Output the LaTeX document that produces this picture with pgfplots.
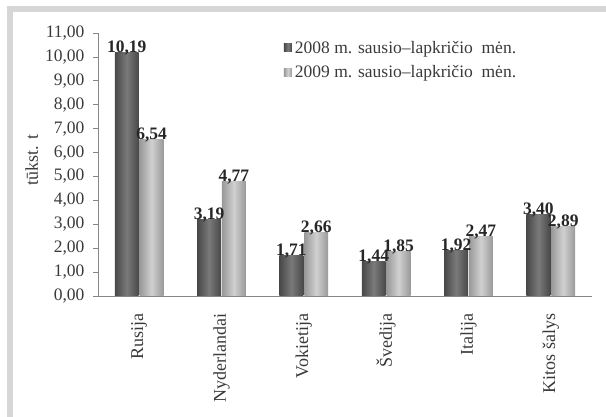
\documentclass[border=0pt]{standalone}
\usepackage{fontspec}
\setmainfont{Liberation Serif}
\usepackage{pgfplots}
\pgfplotsset{compat=1.18}

\definecolor{dkedge}{HTML}{484848}
\definecolor{dkmid}{HTML}{7A7A7A}
\definecolor{ltedge}{HTML}{999999}
\definecolor{ltmid}{HTML}{D0D0D0}
\definecolor{axgray}{HTML}{868686}
\definecolor{txt}{HTML}{3A3A3A}
\definecolor{frame}{HTML}{D6D6D6}

\pgfplotsset{
    dk/.style={draw=none, left color=dkedge, right color=dkedge, middle color=dkmid, bar shift=-0.151, forget plot},
    lt/.style={draw=none, left color=ltedge, right color=ltedge, middle color=ltmid, bar shift=0.151, forget plot},
}

\begin{document}
\begin{tikzpicture}
\useasboundingbox (0,0) rectangle (606bp,417bp);
% frame visible on top and left only
\fill[frame] (7bp,405bp) rectangle (606bp,411bp);
\fill[frame] (7bp,0bp) rectangle (12.5bp,411bp);

\begin{axis}[
    at={(98bp,121bp)}, anchor=south west,
    scale only axis,
    width=494bp, height=263bp,
    ybar,
    bar width=0.29,
    xmin=0, xmax=6,
    ymin=0, ymax=11,
    axis x line=bottom, axis y line=left,
    axis line style={-, axgray, line width=0.8bp},
    every tick/.style={axgray, line width=0.8bp},
    tick align=outside,
    major tick length=5bp,
    minor tick length=5bp,
    ytick={0,1,...,11},
    xtick={0.5,1.5,2.5,3.5,4.5,5.5},
    minor xtick={0,1,2,3,4,5,6},
    xtick style={draw=none},
    xticklabels={Rusija,Nyderlandai,Vokietija,Švedija,Italija,Kitos šalys},
    xticklabel style={rotate=90, anchor=east, font=\fontsize{18bp}{18bp}\selectfont, text=txt},
    xticklabel shift=9bp,
    yticklabel style={font=\fontsize{17.5bp}{18bp}\selectfont, text=txt,
        /pgf/number format/.cd, fixed, fixed zerofill, precision=2, use comma},
    yticklabel shift=5bp,
    /pgf/number format/assume math mode=true,
    ylabel={tūkst. t},
    ylabel style={at={(axis description cs:-0.134,0.517)}, anchor=center,
        font=\fontsize{18bp}{18bp}\selectfont, text=txt},
    nodes near coords={\pgfmathprintnumber[fixed,fixed zerofill,precision=2,use comma]{\pgfplotspointmeta}},
    every node near coord/.append style={anchor=base, inner sep=0pt, yshift=0bp,
        font=\bfseries\fontsize{17.5bp}{18bp}\selectfont, text=black!85},
    legend image code/.code={\fill[#1] (0bp,-4bp) rectangle (8bp,4bp);},
    legend style={at={(axis description cs:0.37,0.985)}, anchor=north west,
        draw=none, fill=none, row sep=7bp,
        font=\fontsize{17.5bp}{18bp}\selectfont, text=txt,
        nodes={inner xsep=3bp}},
    legend cell align=left,
]
% 2008
\addplot[dk] coordinates {(0.5,10.19)};
\addplot[dk] coordinates {(1.5,3.19)};
\addplot[dk] coordinates {(2.5,1.71)};
\addplot[dk] coordinates {(3.5,1.44)};
\addplot[dk] coordinates {(4.5,1.92)};
\addplot[dk] coordinates {(5.5,3.40)};
% 2009
\addplot[lt] coordinates {(0.5,6.54)};
\addplot[lt] coordinates {(1.5,4.77)};
\addplot[lt] coordinates {(2.5,2.66)};
\addplot[lt] coordinates {(3.5,1.85)};
\addplot[lt] coordinates {(4.5,2.47)};
\addplot[lt] coordinates {(5.5,2.89)};
\addlegendimage{draw=none, left color=dkedge, right color=dkedge, middle color=dkmid}
\addlegendentry{2008 m. sausio–lapkričio\ \ mėn.}
\addlegendimage{draw=none, left color=ltedge, right color=ltedge, middle color=ltmid}
\addlegendentry{2009 m. sausio–lapkričio\ \ mėn.}
\end{axis}
\end{tikzpicture}
\end{document}
